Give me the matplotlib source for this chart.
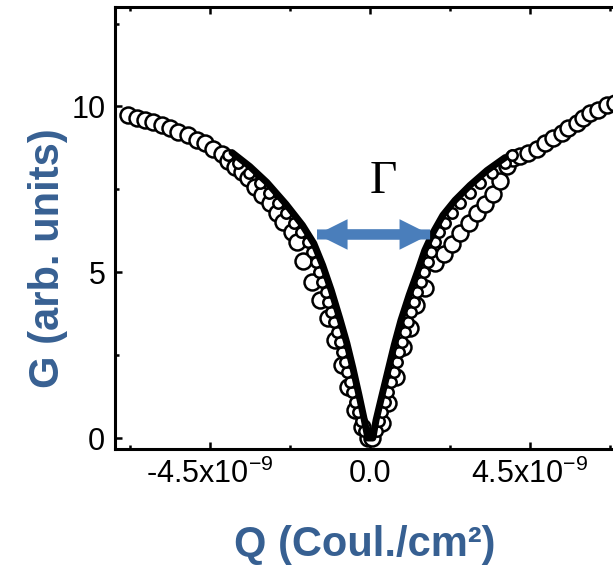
import numpy as np
import matplotlib.pyplot as plt
from matplotlib.ticker import FixedLocator, FixedFormatter

plt.rcParams['font.family'] = 'Liberation Sans'
plt.rcParams['mathtext.fontset'] = 'custom'
plt.rcParams['mathtext.rm'] = 'Liberation Sans'
plt.rcParams['mathtext.it'] = 'Liberation Sans:italic'
plt.rcParams['mathtext.bf'] = 'Liberation Sans:bold'

SCALE = 1e-9  # charge values below are in units of 1e-9 Coul./cm2
BLUE = '#376092'
ARROW_BLUE = '#4a7ebb'

# measured G(Q), large open circles
q_meas_left = [-6.81, -6.55, -6.33, -6.10, -5.85, -5.63, -5.40, -5.12, -4.87, -4.64,
               -4.42, -4.16, -3.99, -3.80, -3.60, -3.43, -3.23, -3.04, -2.81, -2.62,
               -2.45, -2.19, -2.05, -1.88, -1.63, -1.41, -1.18, -0.98, -0.79, -0.62,
               -0.42, -0.22, -0.06]
g_meas_left = [9.73, 9.64, 9.58, 9.52, 9.43, 9.34, 9.22, 9.13, 8.98, 8.89,
               8.73, 8.58, 8.37, 8.16, 8.01, 7.83, 7.56, 7.32, 7.08, 6.78,
               6.51, 6.20, 5.90, 5.35, 4.70, 4.16, 3.61, 2.95, 2.20, 1.54,
               0.84, 0.33, 0.00]
q_meas_right = [0.06, 0.33, 0.50, 0.74, 0.92, 1.13, 1.30, 1.55, 1.83, 2.08,
                2.31, 2.53, 2.79, 3.01, 3.23, 3.46, 3.66, 3.85, 4.01, 4.22,
                4.44, 4.70, 4.92, 5.15, 5.40, 5.57, 5.82, 5.99, 6.19, 6.41,
                6.67, 6.89]
g_meas_right = [0.00, 0.45, 1.05, 1.84, 2.74, 3.31, 4.01, 4.52, 5.27, 5.55,
                5.85, 6.17, 6.50, 6.78, 7.05, 7.35, 7.75, 8.20, 8.44, 8.52,
                8.61, 8.73, 8.89, 9.04, 9.19, 9.34, 9.49, 9.64, 9.79, 9.88,
                10.03, 10.12]

# second data set, small densely spaced circles
g_dense = [0.2, 0.5, 0.8, 1.1, 1.4, 1.7, 2.0, 2.3, 2.6, 2.9, 3.2, 3.5, 3.8, 4.1, 4.4,
           4.7, 5.0, 5.3, 5.6, 5.9, 6.2, 6.5, 6.8, 7.1, 7.4, 7.7, 8.0, 8.3, 8.55]
q_dense_left = [-0.17, -0.25, -0.33, -0.41, -0.50, -0.57, -0.64, -0.71, -0.78, -0.85,
                -0.93, -1.01, -1.09, -1.17, -1.25, -1.34, -1.43, -1.52, -1.63, -1.74,
                -1.94, -2.14, -2.37, -2.60, -2.85, -3.10, -3.39, -3.71, -4.00]
q_dense_right = [0.21, 0.26, 0.35, 0.43, 0.52, 0.59, 0.67, 0.75, 0.82, 0.90,
                 0.98, 1.06, 1.15, 1.24, 1.33, 1.43, 1.53, 1.62, 1.71, 1.82,
                 1.94, 2.11, 2.30, 2.54, 2.81, 3.10, 3.42, 3.80, 4.00]

# fit curve
q_fit = [-3.88, -3.38, -2.90, -2.36, -1.90, -1.58, -1.33, -1.09, -0.85, -0.65,
         -0.48, -0.31, -0.17, -0.06, 0.08, 0.17, 0.34, 0.51, 0.68, 0.87,
         1.10, 1.35, 1.54, 1.76, 2.05, 2.39, 2.81, 3.29, 3.80]
g_fit = [8.61, 8.19, 7.71, 7.05, 6.42, 5.87, 5.21, 4.46, 3.61, 2.86,
         2.11, 1.30, 0.60, 0.00, 0.00, 0.54, 1.30, 2.05, 2.80, 3.55,
         4.31, 5.06, 5.66, 6.17, 6.72, 7.17, 7.62, 8.07, 8.46]

# width marker
gamma_left, gamma_right, gamma_level = -1.49, 1.69, 6.14

x_major = [-4.5, 0.0, 4.5]
x_major_labels = [r'-4.5x10$^{\mathregular{-9}}$', '0.0', r'4.5x10$^{\mathregular{-9}}$']
x_minor = [-6.75, -2.25, 2.25, 6.75]
y_major = [0, 5, 10]
y_minor = [2.5, 7.5, 12.5]

fig = plt.figure(figsize=(6.13, 5.71), dpi=100)
ax = fig.add_axes([0.1876, 0.2137, 0.8395, 0.7740])

for q, g in ((q_meas_left, g_meas_left), (q_meas_right, g_meas_right)):
    ax.plot(np.array(q) * SCALE, g, 'o', ls='none', ms=11.5, mfc='white',
            mec='black', mew=1.8)
for q in (q_dense_left, q_dense_right):
    ax.plot(np.array(q) * SCALE, g_dense, 'o', ls='none', ms=7.5, mfc='white',
            mec='black', mew=1.8)
ax.plot(np.array(q_fit) * SCALE, g_fit, color='black', lw=5,
        solid_capstyle='round', solid_joinstyle='round')

# double-headed arrow: two overlapping single-headed arrows
for start, end in ((gamma_right, gamma_left), (gamma_left, gamma_right)):
    ax.annotate('', xy=(end * SCALE, gamma_level), xytext=(start * SCALE, gamma_level),
                arrowprops=dict(arrowstyle='simple,head_length=1.0,head_width=1.0,tail_width=0.33',
                                mutation_scale=22, color=ARROW_BLUE, lw=0,
                                shrinkA=0, shrinkB=0))
ax.text(0.37 * SCALE, 7.38, 'Γ', family='Liberation Serif', fontsize=34,
        ha='center', va='baseline')

ax.set_xlim(-7.17 * SCALE, 7.30 * SCALE)
ax.set_ylim(-0.33, 13.0)

ax.xaxis.set_major_locator(FixedLocator(np.array(x_major) * SCALE))
ax.xaxis.set_major_formatter(FixedFormatter(x_major_labels))
ax.xaxis.set_minor_locator(FixedLocator(np.array(x_minor) * SCALE))
ax.yaxis.set_major_locator(FixedLocator(y_major))
ax.yaxis.set_minor_locator(FixedLocator(y_minor))
ax.tick_params(which='both', direction='in', top=True, right=True, width=1.8,
               labelsize=22, pad=7)
ax.tick_params(which='major', length=5)
ax.tick_params(which='minor', length=3)
for sp in ax.spines.values():
    sp.set_linewidth(2.2)

ax.set_xlabel('Q (Coul./cm²)', fontsize=30, fontweight='bold', color=BLUE)
ax.xaxis.set_label_coords(0.486, -0.172)
ax.set_ylabel('G (arb. units)', fontsize=30, fontweight='bold', color=BLUE)
ax.yaxis.set_label_coords(-0.091, 0.432)

fig.savefig('out.png', dpi=100)
